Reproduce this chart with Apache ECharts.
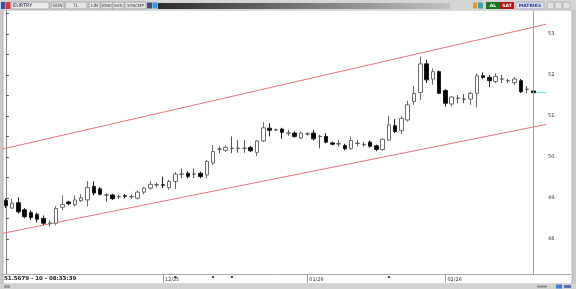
<!DOCTYPE html>
<html><head><meta charset="utf-8">
<script src="https://cdn.jsdelivr.net/npm/echarts@6/dist/echarts.min.js"></script>
<style>html,body{margin:0;padding:0;background:#c8c8c8;}#c{width:576px;height:289px;}</style>
</head><body><div id="c"></div>
<script>
const symbolName = 'EURTRY';
const statusText = '51.5679 - 10 - 08:33:39';
// daily candles, Oct 27 2025 .. Feb 20 2026
const opens = [
48.94, 48.75, 48.88, 48.71, 48.64, 48.60, 48.50, 48.37, 48.38, 48.77,
48.90, 48.83, 48.93, 48.95, 49.28, 49.22, 49.07, 49.07, 49.03, 49.05,
49.03, 48.99, 49.14, 49.24, 49.32, 49.32, 49.25, 49.40, 49.58, 49.60,
49.58, 49.60, 49.56, 49.85, 50.19, 50.16, 50.21, 50.21, 50.21, 50.23,
50.11, 50.39, 50.70, 50.66, 50.68, 50.58, 50.58, 50.46, 50.56, 50.58,
50.50, 50.50, 50.34, 50.32, 50.28, 50.20, 50.33, 50.30, 50.36, 50.27,
50.18, 50.41, 50.76, 50.64, 50.90, 51.35, 51.57, 52.27, 51.90, 52.08,
51.62, 51.29, 51.43, 51.41, 51.41, 51.55, 51.98, 51.94, 51.84, 51.90,
51.86, 51.81, 51.86, 51.65, 51.61
];
const closes = [
48.81, 48.87, 48.66, 48.54, 48.52, 48.48, 48.38, 48.39, 48.74, 48.84,
48.86, 48.95, 49.00, 49.25, 49.12, 49.09, 49.07, 48.98, 49.03, 49.04,
49.03, 49.14, 49.24, 49.33, 49.32, 49.31, 49.40, 49.58, 49.58, 49.52,
49.58, 49.52, 49.89, 50.13, 50.19, 50.23, 50.21, 50.21, 50.21, 50.15,
50.39, 50.71, 50.65, 50.66, 50.60, 50.58, 50.50, 50.58, 50.56, 50.44,
50.50, 50.36, 50.31, 50.32, 50.20, 50.40, 50.33, 50.30, 50.26, 50.18,
50.43, 50.78, 50.62, 50.94, 51.27, 51.55, 52.27, 51.88, 52.08, 51.55,
51.31, 51.46, 51.43, 51.41, 51.55, 51.98, 51.94, 51.86, 51.96, 51.90,
51.86, 51.90, 51.59, 51.65, 51.5679
];
const lows = [
48.75, 48.73, 48.62, 48.50, 48.46, 48.40, 48.34, 48.30, 48.33, 48.70,
48.82, 48.79, 48.90, 48.79, 49.06, 49.06, 48.91, 48.95, 48.97, 48.99,
48.98, 48.96, 49.09, 49.20, 49.25, 49.24, 49.20, 49.22, 49.48, 49.48,
49.48, 49.48, 49.48, 49.80, 50.09, 50.12, 50.09, 50.10, 50.10, 50.12,
50.02, 50.36, 50.50, 50.63, 50.44, 50.52, 50.47, 50.44, 50.52, 50.40,
50.21, 50.33, 50.28, 50.25, 50.16, 50.17, 50.26, 50.25, 50.22, 50.14,
50.15, 50.40, 50.58, 50.56, 50.86, 51.27, 51.39, 51.80, 51.76, 51.54,
51.23, 51.23, 51.31, 51.31, 51.27, 51.21, 51.90, 51.70, 51.80, 51.80,
51.80, 51.75, 51.56, 51.55, 51.56
];
const highs = [
48.99, 48.98, 49.01, 48.75, 48.70, 48.64, 48.57, 48.45, 48.80, 49.06,
48.93, 49.06, 49.09, 49.41, 49.40, 49.26, 49.11, 49.10, 49.08, 49.09,
49.08, 49.18, 49.27, 49.41, 49.37, 49.52, 49.44, 49.63, 49.72, 49.65,
49.72, 49.64, 49.92, 50.29, 50.25, 50.28, 50.50, 50.41, 50.41, 50.27,
50.41, 50.85, 50.82, 50.69, 50.71, 50.66, 50.62, 50.62, 50.60, 50.66,
50.54, 50.58, 50.37, 50.41, 50.32, 50.50, 50.41, 50.37, 50.40, 50.30,
50.45, 51.00, 50.92, 51.00, 51.37, 51.73, 52.45, 52.37, 52.16, 52.11,
51.65, 51.49, 51.51, 51.53, 51.59, 52.04, 52.06, 52.00, 52.04, 52.00,
51.90, 51.95, 51.90, 51.73, 51.62
];
const xTickIdx = [25, 48, 70];
const xTickLabels = ['12/25', '01/26', '02/26'];
const yLabelValues = [48, 49, 50, 51, 52, 53];
const yTickValues = [47.5, 48, 48.5, 49, 49.5, 50, 50.5, 51, 51.5, 52, 52.5, 53, 53.5];
const eventIdx = [27, 33, 36, 61];
const lastPrice = 51.5679;
const trendUpper = [[0, 50.21], [85, 53.20]];
const trendLower = [[0, 48.15], [85, 50.76]];

const X_MIN = -0.454, X_MAX = 86.02, Y_MIN = 47.13, Y_MAX = 53.56;
function extend(t) {
  const f = x => t[0][1] + (t[1][1] - t[0][1]) * (x - t[0][0]) / (t[1][0] - t[0][0]);
  return [[X_MIN, f(X_MIN)], [X_MAX, f(X_MAX)]];
}
const candles = opens.map((o, i) => [i, o, closes[i], lows[i], highs[i]]);
const lastIdx = opens.length - 1;

const chart = echarts.init(document.getElementById('c'), null, {renderer: 'canvas'});
const FF = 'DejaVu Sans, sans-serif';
function rect(x, y, w, h, fill, stroke, z) {
  return {type: 'rect', z: z == null ? -50 : z, silent: true, shape: {x, y, width: w, height: h},
    style: {fill, stroke: stroke || null, lineWidth: stroke ? 0.8 : 0}};
}
function txt(t, x, y, fill, size, align, weight, z) {
  return {type: 'text', z: z == null ? -40 : z, silent: true,
    style: {text: t, x, y, fill, fontSize: size, fontFamily: FF, fontWeight: weight || 'normal',
      textAlign: align || 'center', textVerticalAlign: 'middle'}};
}
const graphics = [
  rect(0, 0, 576, 289, '#c9c9c9', null, -100),
  rect(3, 10, 569, 274, '#ffffff', '#a4a4a4', -90),
  rect(0, 0, 576, 10, '#d5d5d5', null, -80),
  rect(1, 2, 4, 7, '#3352a8', null),
  rect(5.5, 2, 5, 7, '#d43b3b', null),
  rect(11, 2, 38, 7, '#ebebeb', '#9a9a9a'),
  txt(symbolName, 13, 5.6, '#222244', 5, 'left'),
  rect(51, 2, 13, 7, '#e6e6e6', '#9a9a9a'), txt('GÜN', 57.5, 5.6, '#333', 4.5),
  rect(65, 2, 22, 7, '#e6e6e6', '#9a9a9a'), txt('TL', 76, 5.6, '#333', 4.5),
  rect(89, 2, 11, 7, '#e6e6e6', '#9a9a9a'), txt('LIN', 94.5, 5.6, '#333', 4.5),
  rect(101, 2, 12, 7, '#e6e6e6', '#9a9a9a'), txt('IDNK', 107, 5.6, '#333', 4),
  rect(113, 2, 11, 7, '#e6e6e6', '#9a9a9a'), txt('SVD', 118.5, 5.6, '#333', 4),
  rect(125, 2, 21, 7, '#e6e6e6', '#9a9a9a'), txt('SYNCMP', 135.5, 5.6, '#333', 4),
  rect(147, 2.5, 5, 6, '#4a4a6a', null),
  rect(152.5, 2.5, 5, 6, '#3b95dd', null),
  {type: 'rect', z: -50, silent: true, shape: {x: 158, y: 3, width: 292, height: 6},
    style: {fill: new echarts.graphic.LinearGradient(0, 0, 1, 0, [{offset: 0, color: '#2c2c2c'}, {offset: 1, color: '#c2c2c2'}])}},
  rect(473, 2.5, 4, 6, '#e39a2c', null),
  rect(478, 2.5, 5, 6, '#3aa5a5', null),
  rect(486, 2, 14, 7, '#117a22', null), txt('AL', 493, 5.6, '#ffffff', 4.5, 'center', 'bold'),
  rect(500, 2, 14, 7, '#a81818', null), txt('SAT', 507, 5.6, '#ffffff', 4.5, 'center', 'bold'),
  rect(516, 2, 28, 7, '#dfe3ef', '#9aa0b8'), txt('MATRIKS', 530, 5.6, '#2a3c8c', 4.5, 'center', 'bold'),
  rect(547, 2, 7, 7, '#e2e2e2', '#aaaaaa'),
  rect(555, 2, 7, 7, '#e2e2e2', '#aaaaaa'),
  rect(563, 2, 7, 7, '#e2e2e2', '#aaaaaa'),
  rect(0, 284, 576, 5, '#d2d2d2', null, -80),
  rect(4, 285, 6, 3, '#9a9a9a', null),
  rect(537, 285.5, 10, 2, '#8a8a8a', null),
  rect(556, 284.5, 6, 4, '#3a7fd0', null),
  rect(564, 285, 7, 3, '#5a6fb0', null),
  {type: 'line', z: -40, silent: true, shape: {x1: 546, y1: 274.5, x2: 571, y2: 274.5}, style: {stroke: '#a8a8a8', lineWidth: 1}},
  txt(statusText, 4, 278.6, '#1a1a1a', 5.5, 'left', 'bold')
];

chart.setOption({
  animation: false,
  backgroundColor: '#c9c9c9',
  graphic: graphics,
  grid: {left: 3, right: 30, top: 11, bottom: 14.5, containLabel: false},
  xAxis: {
    type: 'value', min: X_MIN, max: X_MAX, splitLine: {show: false},
    axisLine: {show: true, lineStyle: {color: '#a8a8a8', width: 1}},
    axisTick: {show: true, customValues: xTickIdx, length: 8, lineStyle: {color: '#999'}},
    axisLabel: {show: true, customValues: xTickIdx, margin: 3, align: 'left', padding: [0, 0, 0, 2],
      fontSize: 5, fontFamily: FF, color: '#333',
      formatter: v => { const k = xTickIdx.indexOf(Math.round(v)); return k >= 0 ? xTickLabels[k] : ''; }}
  },
  yAxis: {
    type: 'value', position: 'right', min: Y_MIN, max: Y_MAX, splitLine: {show: false}, scale: true,
    axisLine: {show: true, lineStyle: {color: '#808080', width: 1}},
    axisTick: {show: true, customValues: yTickValues, length: 3, lineStyle: {color: '#555'}},
    axisLabel: {show: true, customValues: yLabelValues, margin: 2, fontSize: 5, fontFamily: FF, color: '#333',
      formatter: v => Math.round(v) + '.'}
  },
  series: [
    {type: 'line', data: extend(trendUpper), symbol: 'none', silent: true, z: 1,
      lineStyle: {color: '#f07272', width: 1}},
    {type: 'line', data: extend(trendLower), symbol: 'none', silent: true, z: 1,
      lineStyle: {color: '#f07272', width: 1}},
    {type: 'line', data: [[lastIdx, lastPrice], [X_MAX, lastPrice]], symbol: 'none', silent: true, z: 1,
      lineStyle: {color: '#6fe0e0', width: 1}},
    {type: 'candlestick', data: candles, barWidth: 4, z: 3,
      itemStyle: {color: '#ffffff', color0: '#000000', borderColor: '#6a6a6a', borderColor0: '#1a1a1a',
        borderColorDoji: '#555555', borderWidth: 1},
      markLine: {silent: true, symbol: 'none', label: {show: false},
        lineStyle: {color: '#a0a0a0', width: 1, type: 'solid'},
        data: [{xAxis: lastIdx}]}},
    {type: 'scatter', data: eventIdx.map(i => [i, Y_MIN]), symbol: 'rect', symbolSize: [2, 2],
      symbolOffset: [0, 2.5], clip: false, silent: true, itemStyle: {color: '#111'}, z: 5}
  ]
});
</script></body></html>
